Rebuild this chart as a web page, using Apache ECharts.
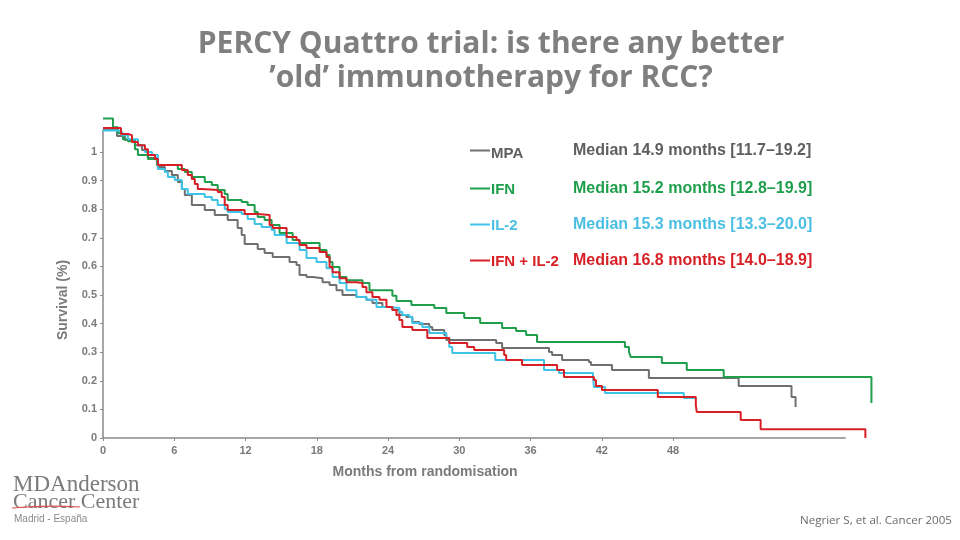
<!DOCTYPE html>
<html><head><meta charset="utf-8">
<script src="https://cdn.jsdelivr.net/npm/echarts@6/dist/echarts.min.js"></script>
<style>html,body{margin:0;padding:0;background:#fff}#c{width:960px;height:540px}</style>
</head><body><div id="c"></div>
<script>
const titleText = 'PERCY Quattro trial: is there any better\n\u2019old\u2019 immunotherapy for RCC?';
const seriesNames = ['MPA', 'IFN', 'IL-2', 'IFN + IL-2'];
const medianLabels = [
  'Median 14.9 months [11.7\u201319.2]',
  'Median 15.2 months [12.8\u201319.9]',
  'Median 15.3 months [13.3\u201320.0]',
  'Median 16.8 months [14.0\u201318.9]'
];
const xTicks = [0, 6, 12, 18, 24, 30, 36, 42, 48];
const yTicks = [0, 0.1, 0.2, 0.3, 0.4, 0.5, 0.6, 0.7, 0.8, 0.9, 1];

// [months, survival]
const mpa = [[0,1.077],[1.18,1.056],[1.85,1.042],[2.69,1.024],[3.28,1.007],[3.78,0.979],[4.62,0.948],[5.21,0.934],[5.80,0.920],[6.30,0.895],[6.64,0.871],[6.89,0.850],[7.48,0.815],[8.57,0.797],[9.41,0.780],[10.50,0.762],[11.34,0.734],[11.68,0.710],[11.93,0.678],[13.03,0.661],[13.61,0.647],[14.29,0.633],[15.71,0.615],[16.30,0.605],[16.55,0.570],[17.14,0.563],[17.65,0.559],[18.49,0.545],[19.08,0.535],[19.66,0.517],[20.17,0.500],[21.34,0.493],[22.18,0.483],[22.69,0.472],[23.53,0.458],[24.37,0.448],[24.96,0.430],[25.55,0.423],[26.05,0.406],[26.64,0.399],[27.48,0.388],[27.73,0.378],[28.74,0.360],[28.91,0.343],[33.11,0.332],[33.61,0.315],[37.56,0.301],[37.82,0.290],[38.66,0.273],[40.92,0.266],[41.09,0.255],[42.86,0.238],[45.97,0.210],[53.53,0.182],[57.98,0.143],[58.32,0.108]];
const ifn = [[0,1.117],[0.84,1.087],[1.26,1.066],[1.68,1.045],[2.10,1.038],[2.69,1.010],[2.94,0.990],[3.78,0.976],[4.54,0.955],[6.30,0.941],[6.89,0.930],[7.48,0.913],[8.57,0.895],[9.16,0.885],[9.66,0.867],[10.25,0.853],[10.50,0.832],[11.68,0.825],[12.18,0.815],[12.77,0.790],[13.03,0.773],[13.61,0.762],[14.20,0.745],[14.87,0.717],[15.97,0.692],[16.55,0.682],[18.24,0.657],[18.82,0.640],[19.08,0.615],[19.33,0.598],[19.92,0.563],[20.50,0.552],[21.85,0.542],[22.44,0.517],[24.37,0.497],[24.71,0.479],[25.97,0.465],[27.90,0.455],[28.91,0.437],[30.42,0.420],[31.76,0.402],[33.61,0.385],[34.79,0.374],[35.63,0.360],[36.55,0.336],[43.95,0.318],[44.29,0.301],[44.45,0.283],[47.06,0.262],[49.16,0.238],[52.27,0.213],[64.71,0.122]];
const il2 = [[0,1.075],[1.18,1.070],[1.60,1.059],[2.10,1.045],[2.94,1.024],[3.53,1.000],[4.12,0.990],[4.62,0.941],[5.21,0.930],[5.46,0.913],[6.05,0.902],[6.64,0.871],[7.14,0.853],[8.57,0.843],[9.16,0.832],[9.66,0.815],[10.25,0.801],[10.50,0.790],[11.68,0.783],[12.18,0.766],[12.77,0.748],[13.36,0.738],[14.20,0.727],[14.45,0.710],[15.46,0.682],[16.55,0.657],[17.14,0.629],[17.98,0.615],[18.82,0.594],[19.33,0.563],[19.92,0.542],[20.50,0.517],[21.34,0.493],[22.18,0.483],[23.03,0.458],[24.12,0.455],[24.96,0.441],[25.21,0.430],[25.80,0.423],[26.05,0.402],[26.89,0.388],[27.48,0.367],[28.91,0.350],[29.16,0.318],[29.41,0.297],[33.03,0.273],[37.14,0.238],[38.40,0.227],[41.26,0.217],[41.34,0.178],[42.27,0.157],[48.91,0.140],[49.83,0.140]];
const ifnIl2 = [[0,1.084],[1.51,1.063],[2.10,1.059],[2.44,1.035],[2.94,1.024],[3.53,1.010],[3.78,0.990],[4.37,0.976],[4.62,0.955],[6.64,0.937],[7.14,0.920],[7.48,0.906],[7.73,0.888],[7.98,0.871],[8.32,0.867],[9.66,0.860],[10.00,0.843],[10.25,0.815],[10.50,0.797],[11.93,0.783],[13.03,0.780],[14.03,0.745],[14.29,0.734],[15.46,0.703],[16.30,0.692],[16.55,0.675],[17.14,0.664],[18.24,0.650],[18.82,0.633],[19.08,0.598],[19.33,0.580],[19.92,0.559],[20.50,0.545],[21.34,0.542],[21.85,0.528],[22.18,0.510],[22.69,0.493],[23.28,0.483],[23.87,0.458],[24.37,0.448],[24.71,0.430],[24.96,0.413],[25.21,0.388],[26.05,0.378],[27.31,0.350],[29.16,0.332],[30.67,0.318],[31.26,0.308],[33.78,0.290],[33.95,0.273],[35.29,0.255],[38.24,0.238],[38.82,0.213],[41.34,0.203],[41.51,0.182],[42.02,0.168],[46.72,0.143],[49.92,0.115],[50.00,0.091],[53.70,0.063],[55.38,0.031],[64.20,0.000]];

const curves = [mpa, ifn, il2, ifnIl2];
const lineColors = ['#6f6f6f', '#1f9f4c', '#3ec3e6', '#d71f26'];
const textColors = ['#5f5f5f', '#1f9f4c', '#4bbfe3', '#d71f26'];

const rich = {};
lineColors.forEach((c, i) => {
  rich['n' + i] = { width: 82, color: textColors[i], fontSize: 15, fontWeight: 'bold', fontFamily: 'Liberation Sans', lineHeight: 18, padding: [i === 0 ? 6 : 2, 0, 0, 0] };
  rich['m' + i] = { color: textColors[i], fontSize: 16, fontWeight: 'bold', fontFamily: 'Liberation Sans', lineHeight: 18 };
});

const axisGray = '#8a8a8a';
const labelGray = '#7a7a7a';
const PX_PER_MONTH = 11.875;
const plotMax = 65.2;   // range used to draw curves (they run past the visible axis)
const axisMax = 62.5;   // visible axis extent

const chart = echarts.init(document.getElementById('c'));
chart.setOption({
  animation: false,
  backgroundColor: '#ffffff',
  title: {
    text: titleText,
    left: 486, top: 22, textAlign: 'center',
    textStyle: { fontFamily: 'Open Sans', fontWeight: 'bold', fontSize: 30, lineHeight: 34, color: '#7f7f7f' }
  },
  grid: [
    { left: 103, top: 130, width: plotMax * PX_PER_MONTH, height: 308 },
    { left: 103, top: 130, width: axisMax * PX_PER_MONTH, height: 308 }
  ],
  legend: {
    orient: 'vertical', left: 470, top: 140, itemGap: 19, padding: 0,
    itemWidth: 20, itemHeight: 2, icon: 'rect',
    data: seriesNames,
    selectedMode: false,
    formatter: function (name) {
      const i = seriesNames.indexOf(name);
      return '{n' + i + '|' + name + '}{m' + i + '|' + medianLabels[i] + '}';
    },
    textStyle: { rich: rich, padding: [0, 0, 0, -4] }
  },
  xAxis: [
    { gridIndex: 0, type: 'value', min: 0, max: plotMax, show: false },
    {
      gridIndex: 1, type: 'value', min: 0, max: axisMax,
      name: 'Months from randomisation', nameLocation: 'middle', nameGap: 27,
      nameTextStyle: { fontFamily: 'Liberation Sans', fontWeight: 'bold', fontSize: 14, color: labelGray, padding: [0, 98, 0, 0] },
      axisLine: { lineStyle: { color: axisGray, width: 1.5 } },
      axisTick: { show: true, customValues: xTicks, length: 3, lineStyle: { color: axisGray } },
      axisLabel: { customValues: xTicks, fontFamily: 'Liberation Sans', fontWeight: 'bold', fontSize: 11, color: labelGray, margin: 7 },
      splitLine: { show: false }
    }
  ],
  yAxis: [
    { gridIndex: 0, type: 'value', min: 0, max: 1.077, show: false },
    {
      gridIndex: 1, type: 'value', min: 0, max: 1.077,
      name: 'Survival (%)', nameLocation: 'middle', nameGap: 33, nameRotate: 90,
      nameTextStyle: { fontFamily: 'Liberation Sans', fontWeight: 'bold', fontSize: 14, color: labelGray, padding: [0, 32, 0, 0] },
      axisLine: { show: true, lineStyle: { color: axisGray, width: 1.5 } },
      axisTick: { show: true, customValues: yTicks, length: 3, lineStyle: { color: axisGray } },
      axisLabel: { customValues: yTicks, fontFamily: 'Liberation Sans', fontWeight: 'bold', fontSize: 11, color: labelGray, margin: 6 },
      splitLine: { show: false }
    }
  ],
  series: curves.map((d, i) => ({
    name: seriesNames[i],
    type: 'line',
    xAxisIndex: 0, yAxisIndex: 0,
    step: 'end',
    data: d,
    showSymbol: false,
    symbol: 'none',
    clip: false,
    z: 2 + (i === 3 ? 2 : 0),
    lineStyle: { color: lineColors[i], width: 2 },
    itemStyle: { color: lineColors[i] }
  })),
  graphic: [
    { type: 'text', left: 13, top: 473, style: { text: 'MDAnderson', fontFamily: 'Liberation Serif', fontSize: 23, fill: '#7b7b7b' } },
    { type: 'text', left: 13, top: 491, style: { text: 'Cancer Center', fontFamily: 'Liberation Serif', fontSize: 22, fill: '#7b7b7b' } },
    { type: 'bezierCurve', shape: { x1: 12, y1: 508, x2: 80, y2: 507, cpx1: 45, cpy1: 505 }, style: { stroke: '#d9534f', lineWidth: 1.2 } },
    { type: 'text', left: 14, top: 514, style: { text: 'Madrid - Espa\u00f1a', fontFamily: 'Liberation Sans', fontSize: 10, fill: '#8a8a8a' } },
    { type: 'text', right: 8, top: 515, style: { text: 'Negrier S, et al. Cancer 2005', fontFamily: 'Open Sans', fontSize: 11.6, fill: '#6a6a6a' } }
  ]
});
</script>
</body></html>
